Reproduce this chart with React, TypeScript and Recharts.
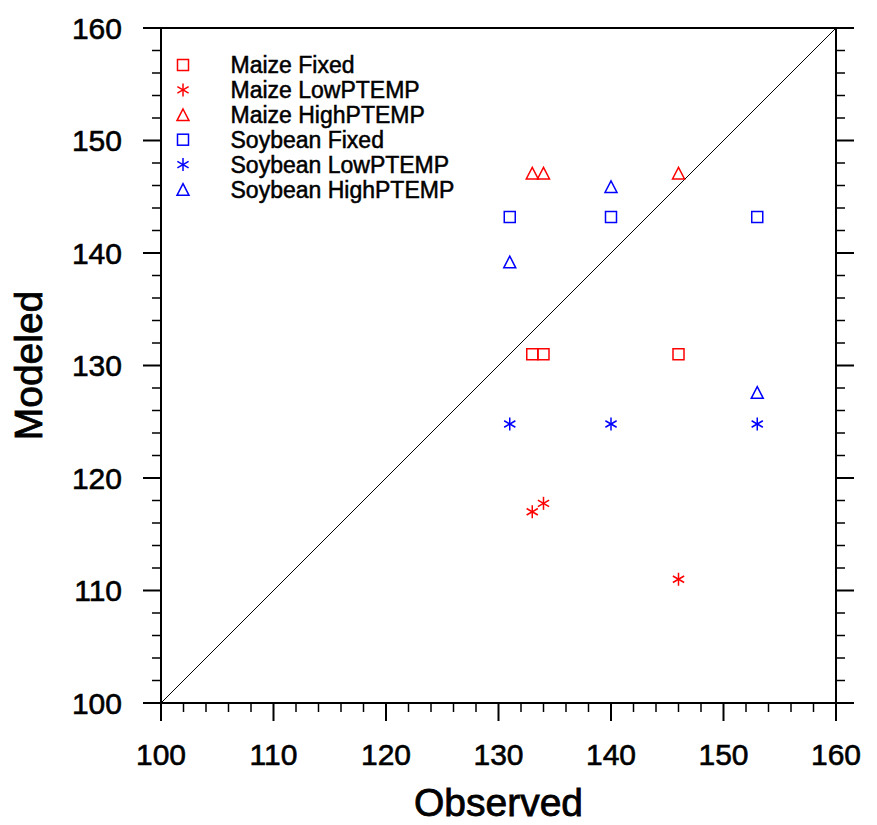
import React from 'react';
import { ScatterChart, Scatter, XAxis, YAxis, ReferenceLine, Legend } from 'recharts';

// Observed values (x)
const observedMaize = [133, 134, 146];
const observedSoybean = [131, 140, 153];
// Modeled values (y)
const maizeFixed = [131, 131, 131];
const maizeLowPTEMP = [117.0, 117.75, 111.0];
const maizeHighPTEMP = [147.1, 147.1, 147.1];
const soybeanFixed = [143.2, 143.2, 143.2];
const soybeanLowPTEMP = [124.8, 124.8, 124.8];
const soybeanHighPTEMP = [139.2, 145.9, 127.6];

const axisTicks = [100, 102, 104, 106, 108, 110, 112, 114, 116, 118, 120, 122, 124, 126, 128, 130, 132, 134, 136, 138, 140, 142, 144, 146, 148, 150, 152, 154, 156, 158, 160];
const axisDomain = [100, 160];
const xTitle = 'Observed';
const yTitle = 'Modeled';

const RED = '#ff0000';
const BLUE = '#0000ff';
const FONT = '"Liberation Sans", Arial, Helvetica, sans-serif';

type Kind = 'square' | 'star' | 'tri';

const seriesDefs: { name: string; xs: number[]; ys: number[]; color: string; kind: Kind }[] = [
  { name: 'Maize Fixed', xs: observedMaize, ys: maizeFixed, color: RED, kind: 'square' },
  { name: 'Maize LowPTEMP', xs: observedMaize, ys: maizeLowPTEMP, color: RED, kind: 'star' },
  { name: 'Maize HighPTEMP', xs: observedMaize, ys: maizeHighPTEMP, color: RED, kind: 'tri' },
  { name: 'Soybean Fixed', xs: observedSoybean, ys: soybeanFixed, color: BLUE, kind: 'square' },
  { name: 'Soybean LowPTEMP', xs: observedSoybean, ys: soybeanLowPTEMP, color: BLUE, kind: 'star' },
  { name: 'Soybean HighPTEMP', xs: observedSoybean, ys: soybeanHighPTEMP, color: BLUE, kind: 'tri' },
];

function Marker({ cx, cy, color, kind }: { cx: number; cy: number; color: string; kind: Kind }) {
  if (cx == null || cy == null) return null;
  const sw = 1.5;
  if (kind === 'square') {
    const h = 5.5;
    return <rect x={cx - h} y={cy - h} width={2 * h} height={2 * h} fill="none" stroke={color} strokeWidth={sw} />;
  }
  if (kind === 'tri') {
    const w = 6;
    const hh = 5.8;
    return (
      <polygon
        points={`${cx},${cy - hh} ${cx + w},${cy + hh} ${cx - w},${cy + hh}`}
        fill="none"
        stroke={color}
        strokeWidth={sw}
        strokeLinejoin="miter"
      />
    );
  }
  const r = 6.5;
  const lines = [90, 30, -30].map((deg) => {
    const a = (deg * Math.PI) / 180;
    const dx = r * Math.cos(a);
    const dy = r * Math.sin(a);
    return <line key={deg} x1={cx - dx} y1={cy - dy} x2={cx + dx} y2={cy + dy} stroke={color} strokeWidth={sw} />;
  });
  return <g>{lines}</g>;
}

const isMajor = (v: number) => v % 10 === 0;

function BottomTick(props: any) {
  const { x, y, payload } = props;
  const major = isMajor(payload.value);
  return (
    <g>
      <line x1={x} y1={y} x2={x} y2={y + (major ? 18 : 9)} stroke="#000" strokeWidth={major ? 2 : 1.5} />
      {major && (
        <text x={x} y={y + 51} textAnchor="middle" dominantBaseline="central" fontSize={30} fontFamily={FONT} fill="#000" stroke="#000" strokeWidth={0.6}>
          {payload.value}
        </text>
      )}
    </g>
  );
}

function TopTick(props: any) {
  const { x, y, payload } = props;
  const major = isMajor(payload.value);
  return <line x1={x} y1={y} x2={x} y2={y - (major ? 18 : 9)} stroke="#000" strokeWidth={major ? 2 : 1.5} />;
}

function LeftTick(props: any) {
  const { x, y, payload } = props;
  const major = isMajor(payload.value);
  return (
    <g>
      <line x1={x} y1={y} x2={x - (major ? 18 : 9)} y2={y} stroke="#000" strokeWidth={major ? 2 : 1.5} />
      {major && (
        <text x={x - 39} y={y} textAnchor="end" dominantBaseline="central" fontSize={30} fontFamily={FONT} fill="#000" stroke="#000" strokeWidth={0.6}>
          {payload.value}
        </text>
      )}
    </g>
  );
}

function RightTick(props: any) {
  const { x, y, payload } = props;
  const major = isMajor(payload.value);
  return <line x1={x} y1={y} x2={x + (major ? 18 : 9)} y2={y} stroke="#000" strokeWidth={major ? 2 : 1.5} />;
}

function XTitle(props: any) {
  const vb = props.viewBox || {};
  return (
    <text x={vb.x + vb.width / 2} y={vb.y + 113} textAnchor="middle" fontSize={39} fontFamily={FONT} fill="#000" stroke="#000" strokeWidth={0.8}>
      {xTitle}
    </text>
  );
}

function YTitle(props: any) {
  const vb = props.viewBox || {};
  const cx = vb.x + 20;
  const cy = vb.y + vb.height / 2;
  return (
    <text
      x={cx}
      y={cy}
      textAnchor="middle"
      dominantBaseline="central"
      transform={`rotate(-90 ${cx} ${cy})`}
      fontSize={39}
      fontFamily={FONT}
      fill="#000"
      stroke="#000"
      strokeWidth={0.8}
    >
      {yTitle}
    </text>
  );
}

function LegendBox() {
  return (
    <svg width={320} height={160} style={{ display: 'block' }}>
      {seriesDefs.map((s, i) => {
        const cy = 15 + i * 24.9;
        return (
          <g key={s.name}>
            <Marker cx={13} cy={cy} color={s.color} kind={s.kind} />
            <text x={60.5} y={cy} dominantBaseline="central" fontSize={23} fontFamily={FONT} fill="#000" stroke="#000" strokeWidth={0.5}>
              {s.name}
            </text>
          </g>
        );
      })}
    </svg>
  );
}

const axisLine = { stroke: '#000', strokeWidth: 2 };

export default function App() {
  return (
    <div style={{ width: 869, height: 817 }}>
      <ScatterChart width={869} height={817} margin={{ top: 0, right: 0, bottom: 0, left: 0 }}>
        <XAxis
          xAxisId={0}
          dataKey="x"
          type="number"
          orientation="bottom"
          domain={axisDomain}
          ticks={axisTicks}
          interval={0}
          height={122}
          tickSize={0}
          tickMargin={0}
          tickLine={false}
          axisLine={axisLine}
          tick={<BottomTick />}
          allowDataOverflow
          label={<XTitle />}
        />
        <XAxis
          xAxisId="top"
          type="number"
          orientation="top"
          domain={axisDomain}
          ticks={axisTicks}
          interval={0}
          height={20}
          tickSize={0}
          tickMargin={0}
          tickLine={false}
          axisLine={axisLine}
          tick={<TopTick />}
          allowDataOverflow
        />
        <YAxis
          yAxisId={0}
          dataKey="y"
          type="number"
          orientation="left"
          domain={axisDomain}
          ticks={axisTicks}
          interval={0}
          width={153}
          tickSize={0}
          tickMargin={0}
          tickLine={false}
          axisLine={axisLine}
          tick={<LeftTick />}
          allowDataOverflow
          label={<YTitle />}
        />
        <YAxis
          yAxisId="right"
          type="number"
          orientation="right"
          domain={axisDomain}
          ticks={axisTicks}
          interval={0}
          width={41}
          tickSize={0}
          tickMargin={0}
          tickLine={false}
          axisLine={axisLine}
          tick={<RightTick />}
          allowDataOverflow
        />
        <ReferenceLine
          xAxisId={0}
          yAxisId={0}
          segment={[{ x: 100, y: 100 }, { x: 160, y: 160 }]}
          stroke="#000"
          strokeWidth={1}
          ifOverflow="visible"
        />
        {seriesDefs.map((s) => (
          <Scatter
            key={s.name}
            name={s.name}
            xAxisId={0}
            yAxisId={0}
            data={s.xs.map((x, i) => ({ x, y: s.ys[i] }))}
            isAnimationActive={false}
            shape={(p: any) => <Marker cx={p.cx} cy={p.cy} color={s.color} kind={s.kind} />}
          />
        ))}
        <Legend
          layout="vertical"
          align="center"
          verticalAlign="middle"
          wrapperStyle={{ position: 'absolute', left: 162, top: 42, width: 320, height: 160 }}
          content={() => <LegendBox />}
        />
      </ScatterChart>
    </div>
  );
}
